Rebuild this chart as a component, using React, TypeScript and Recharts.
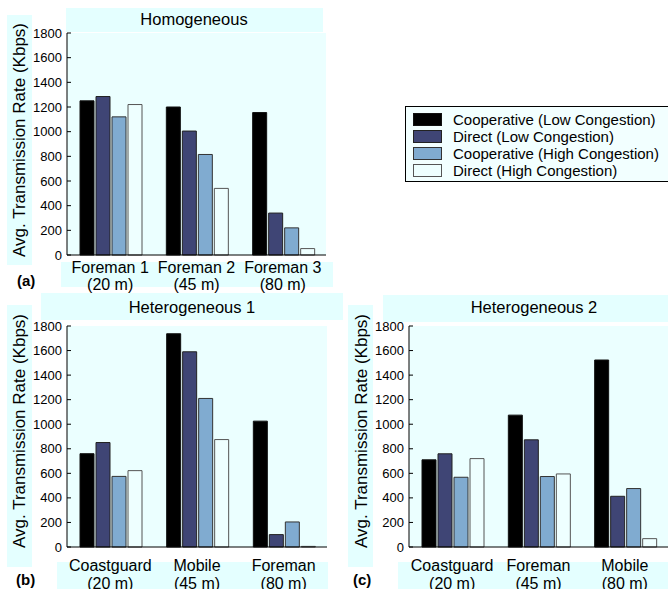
import { BarChart, Bar, XAxis, YAxis, CartesianGrid } from 'recharts';

const legendNames = [
  'Cooperative (Low Congestion)',
  'Direct (Low Congestion)',
  'Cooperative (High Congestion)',
  'Direct (High Congestion)',
];
const distances = ['(20 m)', '(45 m)', '(80 m)'];
const yTicks = [0, 200, 400, 600, 800, 1000, 1200, 1400, 1600, 1800];

const homoCats = ['Foreman 1', 'Foreman 2', 'Foreman 3'];
const homoCoopLow = [1250, 1200, 1155];
const homoDirectLow = [1285, 1005, 340];
const homoCoopHigh = [1120, 815, 220];
const homoDirectHigh = [1220, 540, 52];

const het1Cats = ['Coastguard', 'Mobile', 'Foreman'];
const het1CoopLow = [760, 1737, 1025];
const het1DirectLow = [851, 1590, 101];
const het1CoopHigh = [575, 1210, 204];
const het1DirectHigh = [622, 875, 5];

const het2Cats = ['Coastguard', 'Foreman', 'Mobile'];
const het2CoopLow = [710, 1074, 1523];
const het2DirectLow = [759, 873, 413];
const het2CoopHigh = [568, 574, 476];
const het2DirectHigh = [720, 595, 68];

const FILLS = ['#000000', '#3f4575', '#80abd0', '#eeffff'];
const STROKES = ['#111111', '#222222', '#333333', '#555555'];
const BAND = '#e4ffff';
const PLOT_BG = '#ebffff';
const FONT = '"Liberation Sans", Arial, sans-serif';

const rows = (cats: string[], s: number[][]) =>
  cats.map((c, i) => ({ cat: c, dist: distances[i], s0: s[0][i], s1: s[1][i], s2: s[2][i], s3: s[3][i] }));

interface PanelProps {
  data: any[];
  left: number;
  top: number;
  width: number;
  height: number;
  margin: { top: number; right: number; bottom: number; left: number };
  yWidth: number;
  xHeight: number;
  line1: number;
  line2: number;
}

function Panel({ data, left, top, width, height, margin, yWidth, xHeight, line1, line2 }: PanelProps) {
  const LeftTick = (p: any) => (
    <g>
      <line x1={p.x} x2={p.x + 4} y1={p.y} y2={p.y} stroke="#000" />
      <text x={p.x - 5} y={p.y + 4.5} textAnchor="end" fontSize={13} fill="#000">
        {p.payload.value}
      </text>
    </g>
  );
  const RightTick = (p: any) => <line x1={p.x - 4} x2={p.x} y1={p.y} y2={p.y} stroke="#000" />;
  const TopTick = (p: any) => <line x1={p.x} x2={p.x} y1={p.y} y2={p.y + 4} stroke="#000" />;
  const BottomTick = (p: any) => {
    const row = data[p.index];
    return (
      <g>
        <text x={p.x} y={p.y + line1} textAnchor="middle" fontSize={16} fill="#000">
          {p.payload.value}
        </text>
        <text x={p.x} y={p.y + line2} textAnchor="middle" fontSize={16} fill="#000">
          {row ? row.dist : ''}
        </text>
      </g>
    );
  };
  return (
    <div style={{ position: 'absolute', left, top }}>
      <BarChart width={width} height={height} data={data} margin={margin} barCategoryGap={13} barGap={2}>
        <CartesianGrid fill={PLOT_BG} stroke="none" horizontal={false} vertical={false} />
        <XAxis dataKey="cat" height={xHeight} tickSize={0} tickMargin={0} axisLine={{ stroke: '#000' }} tickLine={false} tick={BottomTick} interval={0} />
        <XAxis xAxisId="top" dataKey="cat" orientation="top" height={0} tickSize={0} tickMargin={0} axisLine={{ stroke: '#000' }} tickLine={false} tick={TopTick} interval={0} />
        <YAxis domain={[0, 1800]} ticks={yTicks} width={yWidth} tickSize={0} tickMargin={0} axisLine={{ stroke: '#000' }} tickLine={false} tick={LeftTick} interval={0} />
        <YAxis yAxisId="right" orientation="right" domain={[0, 1800]} ticks={yTicks} width={0} tickSize={0} tickMargin={0} axisLine={{ stroke: '#000' }} tickLine={false} tick={RightTick} interval={0} />
        {legendNames.map((name, i) => (
          <Bar key={name} name={name} dataKey={`s${i}`} fill={FILLS[i]} stroke={STROKES[i]} strokeWidth={1} isAnimationActive={false} />
        ))}
      </BarChart>
    </div>
  );
}

const bands = [
  [66, 8, 257, 24],
  [7, 15, 25, 250],
  [61, 262, 272, 25],
  [41, 293, 302, 27],
  [7, 305, 25, 262],
  [57, 562, 271, 27],
  [383, 295, 285, 27],
  [348, 305, 25, 262],
  [398, 562, 270, 27],
];

export default function App() {
  const yLabel = 'Avg. Transmission Rate (Kbps)';
  return (
    <div style={{ position: 'absolute', left: 0, top: 0, width: 668, height: 589, overflow: 'hidden', background: '#fff', fontFamily: FONT }}>
      {bands.map(([x, y, w, h], i) => (
        <div key={i} style={{ position: 'absolute', left: x, top: y, width: w, height: h, background: BAND }} />
      ))}
      <Panel
        data={rows(homoCats, [homoCoopLow, homoDirectLow, homoCoopHigh, homoDirectHigh])}
        left={0} top={0} width={340} height={300}
        margin={{ top: 33, right: 14, bottom: 0, left: 0 }}
        yWidth={67} xHeight={45} line1={18} line2={35}
      />
      <Panel
        data={rows(het1Cats, [het1CoopLow, het1DirectLow, het1CoopHigh, het1DirectHigh])}
        left={0} top={280} width={340} height={309}
        margin={{ top: 46, right: 13, bottom: 0, left: 0 }}
        yWidth={67} xHeight={42} line1={24} line2={42}
      />
      <Panel
        data={rows(het2Cats, [het2CoopLow, het2DirectLow, het2CoopHigh, het2DirectHigh])}
        left={340} top={280} width={328} height={309}
        margin={{ top: 46, right: 0, bottom: 0, left: 0 }}
        yWidth={69} xHeight={42} line1={24} line2={42}
      />
      <svg width={668} height={589} style={{ position: 'absolute', left: 0, top: 0, pointerEvents: 'none' }}>
        <text x={194} y={25} textAnchor="middle" fontSize={16.5}>Homogeneous</text>
        <text x={192} y={313} textAnchor="middle" fontSize={16.5}>Heterogeneous 1</text>
        <text x={534} y={313} textAnchor="middle" fontSize={16.5}>Heterogeneous 2</text>
        <text transform="translate(25,140) rotate(-90)" textAnchor="middle" fontSize={17}>{yLabel}</text>
        <text transform="translate(25,431) rotate(-90)" textAnchor="middle" fontSize={17}>{yLabel}</text>
        <text transform="translate(367,431) rotate(-90)" textAnchor="middle" fontSize={17}>{yLabel}</text>
        <text x={17} y={286} fontSize={15} fontWeight="bold">(a)</text>
        <text x={16} y={585} fontSize={15} fontWeight="bold">(b)</text>
        <text x={353} y={585} fontSize={15} fontWeight="bold">(c)</text>
      </svg>
      <div style={{ position: 'absolute', left: 405, top: 106, width: 270, height: 76, boxSizing: 'border-box', border: '1px solid #000', background: '#f2ffff' }}>
        {legendNames.map((name, i) => (
          <div key={name} style={{ position: 'absolute', left: 7, top: 4 + i * 17.3, height: 16, display: 'flex', alignItems: 'center', fontSize: 15, whiteSpace: 'nowrap' }}>
            <span style={{ display: 'inline-block', width: 29, height: 13, boxSizing: 'border-box', background: FILLS[i], border: `1px solid ${STROKES[i]}`, marginRight: 11 }} />
            {name}
          </div>
        ))}
      </div>
    </div>
  );
}
